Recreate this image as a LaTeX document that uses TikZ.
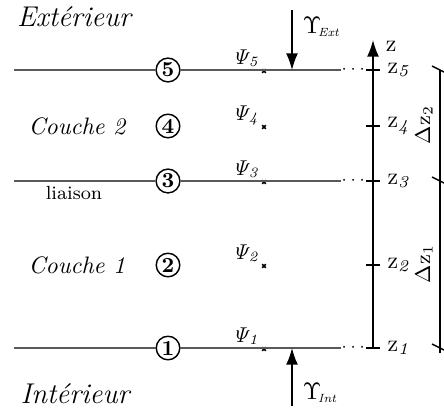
\documentclass[tikz,border=0pt]{standalone}
\usetikzlibrary{arrows.meta}
\begin{document}
\begin{tikzpicture}[x=0.42pt,y=-0.42pt,
  layer/.style={draw=black!65, line width=0.5pt},
  num/.style={circle, draw, line width=0.6pt, inner sep=0.7pt, fill=white, font=\bfseries\small},
  mk/.style={line width=0.7pt},
  ax/.style={draw, line width=0.6pt},
  flux/.style={draw, line width=0.6pt, -{Latex[length=7pt,width=5pt]}},
  lbl/.style={font=\itshape}]
\useasboundingbox (0,0) rectangle (444,408);
% layer circles
\foreach \i/\y in {1/348,2/265,3/181,4/126,5/70}{
  \node[num] (c\i) at (168,\y) {\i};
  \coordinate (m\i) at (264,\y+1);
  \draw[mk] ([shift={(-1.8,-1.8)}]m\i) -- ([shift={(1.8,1.8)}]m\i)
            ([shift={(-1.8,1.8)}]m\i) -- ([shift={(1.8,-1.8)}]m\i);
  \node[inner sep=0pt, anchor=base east, font=\small] (p\i) at (261,\y-6) {$\mathit{\Psi}_{\mathit{\i}}$};
}
% horizontal lines
\foreach \i/\y in {1/348,3/181,5/70}{
  \coordinate (l\i) at (14,\y);
  \coordinate (r\i) at (341,\y);
  \draw[layer] (l\i) -- (c\i) -- (r\i);
  \node[inner sep=0pt, font=\scriptsize, anchor=west] (d\i) at (r\i) {$\cdots$};
}
% axis
\coordinate (ab) at (373,348);
\coordinate (at) at (373,40);
\draw[ax, -{Latex[length=7pt,width=5pt]}] (ab) -- (at);
\node[anchor=west, inner sep=1pt] (zl) at (383,46) {$\mathrm{z}$};
\foreach \i/\y in {1/348,2/265,3/181,4/126,5/70}{
  \coordinate (ta\i) at (366,\y);
  \coordinate (tb\i) at (380,\y);
  \draw[ax] (ta\i) -- (tb\i);
  \node[anchor=west, inner sep=1pt] (z\i) at ([xshift=2]tb\i) {$\mathrm{z}_{\mathit{\i}}$};
}
% flux arrows
\coordinate (ue) at (292,10);
\coordinate (ui) at (292,406);
\coordinate (he) at (292,70);
\coordinate (hi) at (292,348);
\draw[flux] (ue) -- (he);
\draw[flux] (ui) -- (hi);
\node[anchor=west, inner sep=1pt] (ye) at (300,27) {$\Upsilon_{\!\scriptscriptstyle\mathit{Ext}}$};
\node[anchor=west, inner sep=1pt] (yi) at (300,393) {$\Upsilon_{\!\scriptscriptstyle\mathit{Int}}$};
% dimension line
\coordinate (q5) at (440,70);
\coordinate (q3) at (440,181);
\coordinate (q1) at (440,348);
\coordinate (qe) at (440,353);
\draw[ax] (q5) -- (qe);
\foreach \i in {1,3,5}{
  \draw[ax] ([shift={(-8,-4)}]q\i) -- ([shift={(8,4)}]q\i);
}
\node[rotate=90, inner sep=1pt, font=\small] (dz2) at (424,125) {$\Delta\mathrm{z}_2$};
\node[rotate=90, inner sep=1pt, font=\small] (dz1) at (424,264) {$\Delta\mathrm{z}_1$};
% texts
\node[lbl, font=\large\itshape] (ext) at (74,17) {Extérieur};
\node[lbl] (co2) at (77,126) {Couche 2};
\node[font=\footnotesize] (lia) at (74,193) {liaison};
\node[lbl] (co1) at (77,265) {Couche 1};
\node[lbl, font=\large\itshape] (int) at (75,394) {Intérieur};
\end{tikzpicture}
\end{document}
